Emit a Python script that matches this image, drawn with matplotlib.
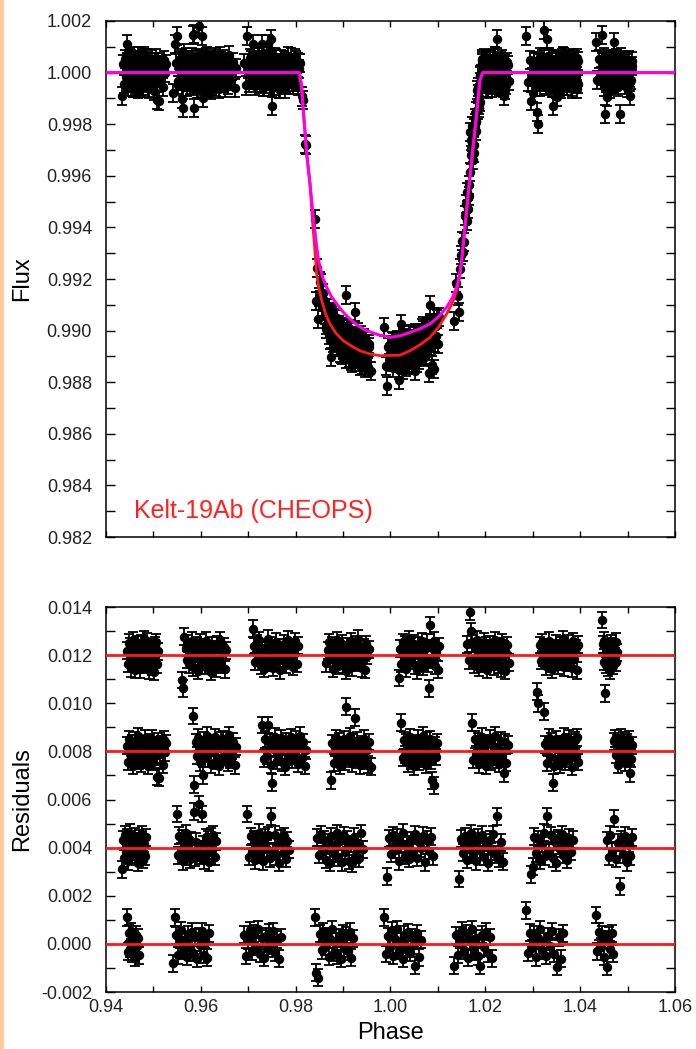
import numpy as np
import matplotlib.pyplot as plt
from matplotlib.ticker import MultipleLocator, FormatStrFormatter
from matplotlib.patches import Rectangle

plt.rcParams['font.family'] = ['Liberation Sans', 'DejaVu Sans']
plt.rcParams['axes.unicode_minus'] = False

# transit models (phase, normalised flux)
red_phase = [0.94, 0.98076, 0.98127, 0.98161, 0.98232, 0.98302, 0.98358, 0.98400, 0.98443,
             0.98490, 0.98549, 0.98630, 0.98724, 0.98850, 0.99004, 0.99180, 0.99356,
             0.99560, 0.99778, 1.00200, 1.00411, 1.00620, 1.00833, 1.01020, 1.01185,
             1.01300, 1.01396, 1.01455, 1.01501, 1.01571, 1.01640, 1.01712, 1.01803,
             1.01887, 1.01944, 1.06]
red_flux = [1.0, 1.0, 0.99945, 0.99854, 0.99686, 0.99570, 0.99420, 0.99324, 0.99220,
            0.99165, 0.99117, 0.99065, 0.99026, 0.98990, 0.98961, 0.98940, 0.98922,
            0.98910, 0.98903, 0.98905, 0.98922, 0.98945, 0.98974, 0.99015, 0.99065,
            0.99105, 0.99155, 0.99205, 0.99272, 0.99401, 0.99531, 0.99660, 0.99816,
            0.99971, 1.0, 1.0]
mag_phase = [0.94, 0.98076, 0.98127, 0.98161, 0.98232, 0.98302, 0.98372, 0.98443, 0.98475,
             0.98513, 0.98580, 0.98654, 0.98750, 0.98865, 0.99000, 0.99146, 0.99310,
             0.99498, 0.99740, 0.99989, 1.00200, 1.00411, 1.00620, 1.00833, 1.01020,
             1.01185, 1.01300, 1.01396, 1.01455, 1.01501, 1.01571, 1.01640, 1.01712,
             1.01803, 1.01887, 1.01944, 1.06]
mag_flux = [1.0, 1.0, 0.99945, 0.99854, 0.99686, 0.99570, 0.99440, 0.99324, 0.99283,
            0.99246, 0.99200, 0.99168, 0.99133, 0.99104, 0.99072, 0.99045, 0.99020,
            0.99000, 0.98984, 0.98974, 0.98980, 0.98993, 0.99007, 0.99026, 0.99055,
            0.99091, 0.99125, 0.99168, 0.99215, 0.99272, 0.99401, 0.99531, 0.99660,
            0.99816, 0.99971, 1.0, 1.0]

# four CHEOPS visits: offsets in the residual panel, orbit segments (phase range)
offsets = [0.012, 0.008, 0.004, 0.000]
seg_v1 = [(0.9444, 0.9510), (0.9560, 0.9653), (0.9709, 0.9805), (0.9865, 0.9954),
          (1.0018, 1.0102), (1.0162, 1.0249), (1.0309, 1.0396), (1.0446, 1.0478)]
seg_v2 = [(0.9444, 0.9527), (0.9583, 0.9674), (0.9730, 0.9822), (0.9875, 0.9958),
          (1.0023, 1.0099), (1.0172, 1.0247), (1.0324, 1.0396), (1.0471, 1.0510)]
seg_v3 = [(0.9433, 0.9485), (0.9549, 0.9632), (0.9698, 0.9786), (0.9846, 0.9942),
          (0.9993, 1.0089), (1.0145, 1.0237), (1.0296, 1.0384), (1.0456, 1.0510)]
seg_v4 = [(0.9444, 0.9470), (0.9541, 0.9617), (0.9692, 0.9769), (0.9840, 0.9921),
          (0.9987, 1.0064), (1.0134, 1.0215), (1.0286, 1.0363), (1.0433, 1.0470)]

# residuals per segment, units of 1e-5
res_v1 = [
    "18 -35 52 -12 38 -55 7 63 -24 -60 29 -5 44 -33 14 -58 49 -17 3 66 -41 22 -9 57 -28 -62 31 10 -46 25 -70 40 -2 55 -37 16",
    "-103 -137 77 30 -18 47 -38 12 61 -50 23 -11 39 -64 5 54 -27 -3 33 -45 60 17 -35 8 -68 42 -14 26 -55 45 -21 63 -40 9 36 -58 20",
    "110 38 -27 50 -10 62 -44 18 -57 29 6 68 -32 -15 42 -52 11 56 -24 33 -63 20 -2 47 -41 14 65 -20 27 -49 3 58 -36 40",
    "-33 21 53 -14 41 -57 9 -26 62 -45 30 -6 48 -38 17 -65 36 3 -21 57 -50 24 -9 44 -30 68 -17 12 -54 32 -61 46 -3 25",
    "-95 27 -36 54 -15 44 -56 11 66 -24 35 -5 47 -42 18 -62 39 8 -29 59 -48 23 -12 51 -33 -137 125 30 -18 60 -45 14 -60 37",
    "45 -22 180 100 48 -41 32 -9 65 -53 21 12 -33 56 -20 39 -60 5 45 -27 29 -47 63 -14 36 -39 17 -57 53 24 -66 8 42 -31",
    "-152 -200 42 -24 53 -8 33 -47 18 60 -36 11 -59 29 -18 50 -42 5 39 -27 66 -51 14 -11 47 -32 21 -54 57 -15 30 -63 44",
    "146 45 -27 60 -159 -41 18 -53 33 8 -63 50 -14 38 -45 24 -6 56 -30 12",
]
res_v2 = [
    "23 -42 50 -9 32 -59 12 45 -26 63 -38 6 -50 29 -17 56 -33 15 -60 39 -5 53 -44 20 -21 -105 42 -110 -12 30 -55 48 -3 35",
    "147 -139 38 -18 57 -45 9 -100 47 -29 66 -11 24 -53 35 -3 60 -39 17 -62 44 -23 51 -14 27 -48 67 -32 5 41 -58 19",
    "110 -30 50 -17 110 36 -56 -130 12 62 -38 26 -6 54 -45 20 -65 41 -23 9 59 -35 30 -12 48 -51 15 66 -27 38 -60 4",
    "-120 33 -47 14 56 -21 42 -60 24 -3 51 -41 186 17 -29 63 -50 36 -11 140 45 -33 20 -57 29 -15 53 -38 8 -54 39 -64",
    "120 -27 47 -14 39 -50 21 60 -36 11 -62 33 -20 53 -42 26 -5 65 -30 15 -56 44 -9 50 -39 -120 -140 27 -23 36",
    "120 -35 51 -12 41 -53 17 62 -26 6 -59 35 -18 54 -44 23 -8 65 -32 14 -51 45 -21 -90 38 -47 28",
    "165 30 -48 14 57 -23 41 -130 -60 18 50 -36 9 -54 29 -14 62 -41 21 -5 53 -29 36 -63 15 47 -18 58 -44",
    "42 53 -15 33 -56 20 60 -27 44 12 -47 38 -6 50 -90 -30 25",
]
res_v3 = [
    "-90 33 -45 53 -18 41 -57 14 62 -29 21 -8 47 -39 27 -62 38 5 -24 56 -50 17 -35 44",
    "140 -32 50 -14 39 -56 18 60 -38 11 -48 29 -20 150 -42 24 -6 180 -33 140 15 -53 44 -23 36 -60 45 -11 54 -39 26",
    "140 -39 47 -18 35 -53 12 63 -27 23 -57 41 -5 51 -44 130 -15 54 -35 17 -62 38 -21 48 -47 29 -9",
    "42 -29 56 -12 33 -51 21 -63 47 -23 8 59 -41 27 -60 50 -17 36 -54 15 -65 45 -30 20 -44 61 -6",
    "-120 39 -26 51 -9 44 -57 18 62 -33 14 -47 30 -18 56 -41 23 -3 50 -60 35 -14 45 -36",
    "-130 38 -21 47 -50 14 60 -30 26 -56 41 -8 53 -38 20 -63 33 -15 57 -27 130 -44 23 -58",
    "-110 -80 45 -24 36 -54 17 62 -35 130 -12 51 -45 29 -62 39 -5 56 -29 21 -50 42 -17 33",
    "30 -39 53 -12 120 -47 21 -160 36 -27 50 -60 15 -35 44",
]
res_v4 = [
    "110 -33 45 -21 54 -42 14 -57 38 -9 26 -48",
    "-80 110 36 -47 20 57 -29 9 -54 41 -17 50 -38 27 -63 32 -5 53 -44 18 -58 44",
    "38 -50 15 56 -30 42 -12 62 -41 23 -57 33 -20 47 -6 54 -36 17 -62 29",
    "110 -120 -140 42 -26 53 -12 33 -54 20 60 -38 11 -47 29 -63 45 -18 36 -30 51 -57 24",
    "110 -42 32 -14 56 -50 21 60 -29 9 -62 39 -21 48 -36 26 -5 -90 44 -55 17",
    "-90 36 -45 17 57 -26 44 -57 11 62 -33 24 -51 -90 39 -14 50 -39 29 -60",
    "140 -36 47 -17 39 -56 23 60 -27 11 -50 33 -9 53 -42 -95 27 -62 45",
    "120 -30 51 -12 41 -54 18 -95 35 -23 45 -41",
]
flux_err = 0.00035

visits = [(seg_v1, res_v1), (seg_v2, res_v2), (seg_v3, res_v3), (seg_v4, res_v4)]

fig = plt.figure(figsize=(6.96, 10.49), dpi=100)
ax1 = fig.add_axes([0.1523, 0.4880, 0.8175, 0.4920])
ax2 = fig.add_axes([0.1523, 0.0543, 0.8175, 0.3670])
fig.add_artist(Rectangle((0, 0), 4 / 696, 1, transform=fig.transFigure,
                         color="#fdcb97", lw=0))

ebkw = dict(fmt="o", color="black", ms=5.8, elinewidth=1.3, capsize=3.8,
            capthick=1.3, zorder=2)

for (segs, res), off in zip(visits, offsets):
    for (a, b), s in zip(segs, res):
        r = np.array(s.split(), dtype=float) * 1e-5
        ph = np.linspace(a, b, len(r))
        model = np.interp(ph, red_phase, red_flux)
        ax1.errorbar(ph, model + r, yerr=flux_err, **ebkw)
        ax2.errorbar(ph, r + off, yerr=flux_err, **ebkw)
    ax2.axhline(off, color="#ff1a1a", lw=2, zorder=3)

ax1.plot(red_phase, red_flux, color="#ff1a1a", lw=2, zorder=3)
ax1.plot(mag_phase, mag_flux, color="#ff00e6", lw=2.2, zorder=4)
ax1.text(0.9459, 0.98274, "Kelt-19Ab (CHEOPS)", color="#ff2020", fontsize=18)

ax1.set_xlim(0.94, 1.06)
ax1.set_ylim(0.982, 1.002)
ax2.set_xlim(0.94, 1.06)
ax2.set_ylim(-0.002, 0.014)

ax1.yaxis.set_major_locator(MultipleLocator(0.002))
ax1.yaxis.set_minor_locator(MultipleLocator(0.001))
ax1.yaxis.set_major_formatter(FormatStrFormatter("%.3f"))
ax2.yaxis.set_major_locator(MultipleLocator(0.002))
ax2.yaxis.set_minor_locator(MultipleLocator(0.001))
ax2.yaxis.set_major_formatter(FormatStrFormatter("%.3f"))
for ax in (ax1, ax2):
    ax.xaxis.set_major_locator(MultipleLocator(0.02))
    ax.xaxis.set_minor_locator(MultipleLocator(0.01))
    ax.xaxis.set_major_formatter(FormatStrFormatter("%.2f"))
    ax.tick_params(which="both", direction="in", top=True, right=True,
                   width=1, labelsize=13, labelcolor="#222222")
    ax.tick_params(axis="y", which="both", length=6.5, pad=10)
    ax.tick_params(axis="x", which="both", length=4.5, pad=5)
    for sp in ax.spines.values():
        sp.set_linewidth(1.1)
ax1.tick_params(axis="x", labelbottom=False)

ax1.set_ylabel("Flux", fontsize=17)
ax2.set_ylabel("Residuals", fontsize=17)
ax2.set_xlabel("Phase", fontsize=17)
ax1.yaxis.set_label_coords(-0.128, 0.5)
ax2.yaxis.set_label_coords(-0.128, 0.5)
ax2.xaxis.set_label_coords(0.5, -0.078)

fig.savefig("out.png", dpi=100)
